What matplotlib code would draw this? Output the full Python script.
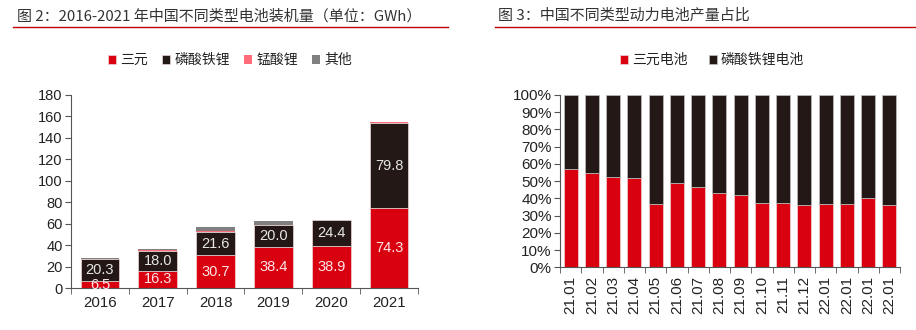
import matplotlib
matplotlib.use("Agg")
import matplotlib.pyplot as plt
import numpy as np

# ---- data ----
years = ["2016", "2017", "2018", "2019", "2020", "2021"]
ternary = [6.5, 16.3, 30.7, 38.4, 38.9, 74.3]
lfp = [20.3, 18.0, 21.6, 20.0, 24.4, 79.8]
lmo = [0.6, 1.5, 1.0, 0.5, 0.2, 0.3]
other = [0.5, 0.3, 3.6, 3.2, 0.1, 0.1]
series_names = ["三元", "磷酸铁锂", "锰酸锂", "其他"]

months = ["21.01", "21.02", "21.03", "21.04", "21.05", "21.06", "21.07", "21.08",
          "21.09", "21.10", "21.11", "21.12", "22.01", "22.01", "22.01", "22.01"]
ternary_pct = [57.0, 54.5, 52.2, 52.0, 36.5, 48.9, 46.6, 43.1,
               41.8, 37.1, 37.1, 36.2, 36.5, 36.5, 40.2, 36.0]
lfp_pct = [100 - v for v in ternary_pct]
pct_names = ["三元电池", "磷酸铁锂电池"]
pct_ticks = [0, 10, 20, 30, 40, 50, 60, 70, 80, 90, 100]

title_left = "图 2：2016-2021 年中国不同类型电池装机量（单位：GWh）"
title_right = "图 3：中国不同类型动力电池产量占比"

RED = "#d9000f"
BLACK = "#231815"
PINK = "#ff6b7b"
GRAY = "#808080"
TXT = "#222222"
CJK = ["Noto Sans CJK SC", "DejaVu Sans"]
NUM = ["Liberation Sans", "DejaVu Sans"]

W, H = 916, 330
fig = plt.figure(figsize=(W / 100, H / 100), dpi=100)

# titles & red lines
fig.text(17 / W, 1 - 16 / H, title_left, family=CJK, fontsize=10.8, color="#333333", va="center", ha="left")
fig.text(498 / W, 1 - 16 / H, title_right, family=CJK, fontsize=10.8, color="#333333", va="center", ha="left")
fig.add_artist(plt.Line2D([13 / W, 448 / W], [1 - 27 / H, 1 - 27 / H], color="#c00000", lw=1.0))
fig.add_artist(plt.Line2D([495 / W, 916 / W], [1 - 27 / H, 1 - 27 / H], color="#c00000", lw=1.0))

def style_axes(ax, ysize, xsize):
    for s in ["top", "right"]:
        ax.spines[s].set_visible(False)
    for s in ["left", "bottom"]:
        ax.spines[s].set_color("#555555")
        ax.spines[s].set_linewidth(0.8)
    ax.tick_params(axis="y", direction="out", length=4, color="#555555", labelsize=ysize,
                   labelcolor=TXT, pad=2)
    ax.tick_params(axis="x", which="major", length=0, labelsize=xsize, labelcolor=TXT, pad=6)
    ax.tick_params(axis="x", which="minor", direction="out", length=4, color="#555555")
    for lab in ax.get_yticklabels() + ax.get_xticklabels():
        lab.set_family(NUM)

# ---- left chart ----
ax1 = fig.add_axes([71 / W, 1 - 288 / H, (418 - 71) / W, (288 - 95) / H])
x = np.arange(len(years))
bw = 0.67
ec = dict(edgecolor="#f2d6d8", linewidth=0.5)
b1 = ax1.bar(x, ternary, bw, color=RED, label=series_names[0], **ec)
bot = np.array(ternary)
b2 = ax1.bar(x, lfp, bw, bottom=bot, color=BLACK, label=series_names[1], **ec)
bot = bot + np.array(lfp)
b3 = ax1.bar(x, lmo, bw, bottom=bot, color=PINK, label=series_names[2], linewidth=0)
bot = bot + np.array(lmo)
b4 = ax1.bar(x, other, bw, bottom=bot, color=GRAY, label=series_names[3], linewidth=0)
ax1.set_xlim(-0.5, len(years) - 0.5)
ax1.set_ylim(0, 180)
ax1.set_yticks(range(0, 181, 20))
ax1.set_xticks(x)
ax1.set_xticklabels(years)
ax1.set_xticks(np.arange(-0.5, len(years), 1.0), minor=True)
style_axes(ax1, 10.5, 10.8)
for i in range(len(years)):
    ax1.text(x[i], ternary[i] / 2, f"{ternary[i]:.1f}", ha="center", va="center",
             color="#fde6e8", fontsize=10.5, family=NUM)
    ax1.text(x[i], ternary[i] + lfp[i] / 2, f"{lfp[i]:.1f}", ha="center", va="center",
             color="#e6e6e6", fontsize=10.5, family=NUM)

fig.legend(handles=[b1, b2, b3, b4], labels=series_names, loc="center",
           bbox_to_anchor=(230 / W, 1 - 60 / H), ncol=4, frameon=False,
           prop={"family": CJK, "size": 10}, handlelength=0.6, handleheight=0.6,
           handletextpad=0.3, columnspacing=1.0, labelcolor=TXT)

# ---- right chart ----
ax2 = fig.add_axes([560 / W, 1 - 267.3 / H, (900 - 560) / W, (267.3 - 95) / H])
xm = np.arange(len(months))
r1 = ax2.bar(xm, ternary_pct, bw, color=RED, label=pct_names[0], edgecolor="#f2d6d8", linewidth=0.5)
r2 = ax2.bar(xm, lfp_pct, bw, bottom=ternary_pct, color=BLACK, label=pct_names[1],
             edgecolor="#bfbfbf", linewidth=0.5)
ax2.set_xlim(-0.5, len(months) - 0.5)
ax2.set_ylim(0, 100)
ax2.set_yticks(pct_ticks)
ax2.set_yticklabels([f"{t}%" for t in pct_ticks])
ax2.set_xticks(xm)
ax2.set_xticklabels(months, rotation=90)
ax2.set_xticks(np.arange(-0.5, len(months), 1.0), minor=True)
style_axes(ax2, 11, 11)

fig.legend(handles=[r1, r2], labels=pct_names, loc="center",
           bbox_to_anchor=(712 / W, 1 - 60 / H), ncol=2, frameon=False,
           prop={"family": CJK, "size": 10}, handlelength=0.6, handleheight=0.6,
           handletextpad=0.3, columnspacing=1.5, labelcolor=TXT)

fig.savefig("out.png", dpi=100)
